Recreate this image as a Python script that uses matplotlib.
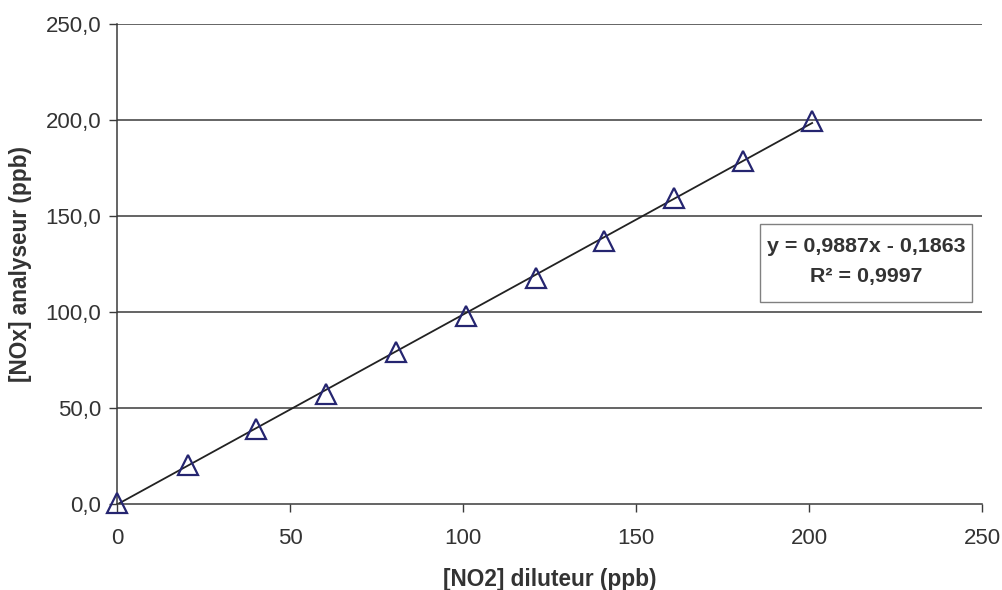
import matplotlib
matplotlib.use("Agg")
import matplotlib.pyplot as plt
from matplotlib.patches import Rectangle
import numpy as np

# données
no2_diluteur = [0.0, 20.3, 40.1, 60.2, 80.5, 100.7, 121.0, 140.8, 160.9, 181.0, 200.9]
nox_analyseur = [0.6, 20.5, 39.3, 57.1, 79.1, 97.7, 117.5, 137.1, 159.2, 178.8, 199.6]

# droite de tendance (Excel)
pente = 0.9887
ordonnee = -0.1863
r2 = 0.9997

x_ticks = [0, 50, 100, 150, 200, 250]
y_ticks = [0, 50, 100, 150, 200, 250]

plt.rcParams['font.family'] = ['Liberation Sans', 'DejaVu Sans']
texte = '#333333'

fig = plt.figure(figsize=(10.02, 5.90), dpi=100)
ax = fig.add_axes([0.1171, 0.1458, 0.8629, 0.8135])

# grille horizontale
for y in y_ticks[1:]:
    ax.axhline(y, color='#3a3a3a', lw=1.1, zorder=1)

# tendance linéaire
xt = np.array([min(no2_diluteur), max(no2_diluteur)])
ax.plot(xt, pente * xt + ordonnee, color='#222222', lw=1.3, zorder=2)

# points de mesure
ax.plot(no2_diluteur, nox_analyseur, linestyle='none', marker='^',
        ms=15, mfc='none', mec='#252570', mew=1.6, zorder=3, clip_on=False)

ax.set_xlim(0, 250)
ax.set_ylim(0, 250)
ax.set_xticks(x_ticks)
ax.set_yticks(y_ticks)
ax.set_xticklabels([str(v) for v in x_ticks])
ax.set_yticklabels([f"{v:.1f}".replace('.', ',') for v in y_ticks])

for s in ['top', 'right']:
    ax.spines[s].set_visible(False)
for s in ['left', 'bottom']:
    ax.spines[s].set_color('#3a3a3a')
    ax.spines[s].set_linewidth(1.1)

ax.tick_params(axis='both', direction='out', length=6, width=1.0,
               color='#3a3a3a', labelsize=16, labelcolor=texte)
ax.tick_params(axis='x', pad=11)
ax.tick_params(axis='y', pad=5.5)

ax.set_xlabel('[NO2] diluteur (ppb)', fontsize=16.3, fontweight='bold',
              color=texte, labelpad=14)
ax.set_ylabel('[NOx] analyseur (ppb)', fontsize=16.3, fontweight='bold',
              color=texte, labelpad=10)

# encadré de l'équation
eq = f"y = {pente:.4f}x - {abs(ordonnee):.4f}".replace('.', ',')
r2_txt = f"R² = {r2:.4f}".replace('.', ',')
ax.add_patch(Rectangle((0.743, 0.421), 0.245, 0.162, transform=ax.transAxes,
                       fc='white', ec='#808080', lw=1.0, zorder=4))
ax.text(0.866, 0.536, eq, transform=ax.transAxes, ha='center', va='center',
        fontsize=15.4, fontweight='bold', color=texte, zorder=5)
ax.text(0.866, 0.4735, r2_txt, transform=ax.transAxes, ha='center', va='center',
        fontsize=15.4, fontweight='bold', color=texte, zorder=5)

fig.savefig('out.png', dpi=100)
